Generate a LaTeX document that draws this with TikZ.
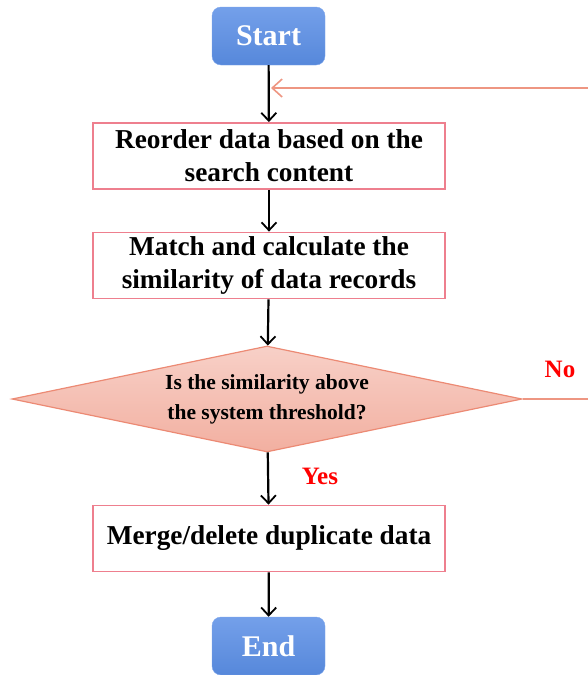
\documentclass[tikz,border=0pt]{standalone}
\usepackage{fontspec}
\setmainfont{Liberation Serif}
\usetikzlibrary{arrows.meta,shapes.geometric}
\definecolor{termblue}{HTML}{5B8FE6}
\definecolor{boxpink}{HTML}{EE7F8E}
\definecolor{salmon}{HTML}{EC8A74}
\tikzset{flow/.style={line width=2.2pt,-{Straight Barb[length=8pt,width=15pt,line width=1.8pt]}},
  back/.style={line width=2pt,draw=salmon!90!white,-{Straight Barb[length=10pt,width=18pt,line width=1.6pt]}},
  term/.style={rounded corners=9pt, draw=termblue!80!white, top color=termblue!85!white, bottom color=termblue!95!black,
    minimum width=113pt, minimum height=58pt, text=white, font=\fontsize{30}{34}\selectfont\bfseries},
  proc/.style={draw=boxpink, line width=1.8pt, fill=white, minimum width=352pt, minimum height=66pt,
    align=center, font=\fontsize{27.3}{33}\selectfont\bfseries},
  cond/.style={diamond, aspect=4.8, inner sep=0pt, draw=salmon, line width=1.2pt, top color=salmon!40!white,
    bottom color=salmon!68!white, minimum width=510pt, minimum height=106pt, align=center,
    font=\fontsize{21.5}{30}\selectfont\bfseries},
  tag/.style={text=red, font=\fontsize{25}{30}\selectfont\bfseries}}

\begin{document}
\begin{tikzpicture}[x=1pt,y=-1pt]
  \clip (0,0) rectangle (588,675);
  \node[term] (start) at (268.5,36) {Start};
  \node[proc] (reord) at (269,156) {Reorder data based on the\\search content};
  \node[proc] (match) at (269,265.5) {Match and calculate the\\similarity of data records};
  \node[cond] (sim) at (267,399) {Is the similarity above\\the system threshold?};
  \node[proc] (merge) at (269,538.5) {Merge/delete duplicate data};
  \node[term] (stop) at (268.5,646) {End};
  \node[tag] (yes) at (320,476) {Yes};
  \node[tag] (no) at (560,369) {No};
  \coordinate (join) at (271,88);
  \coordinate (fbR) at (600,399);
  \coordinate (fbT) at (600,88);
  \draw[flow] (start) -- (reord);
  \draw[flow] (reord) -- (match);
  \draw[flow] (match) -- (sim);
  \draw[flow] (sim) -- (merge);
  \draw[flow] (merge) -- (stop);
  \draw[back] (sim.east) -- (fbR) -- (fbT) -- (join);
\end{tikzpicture}
\end{document}
